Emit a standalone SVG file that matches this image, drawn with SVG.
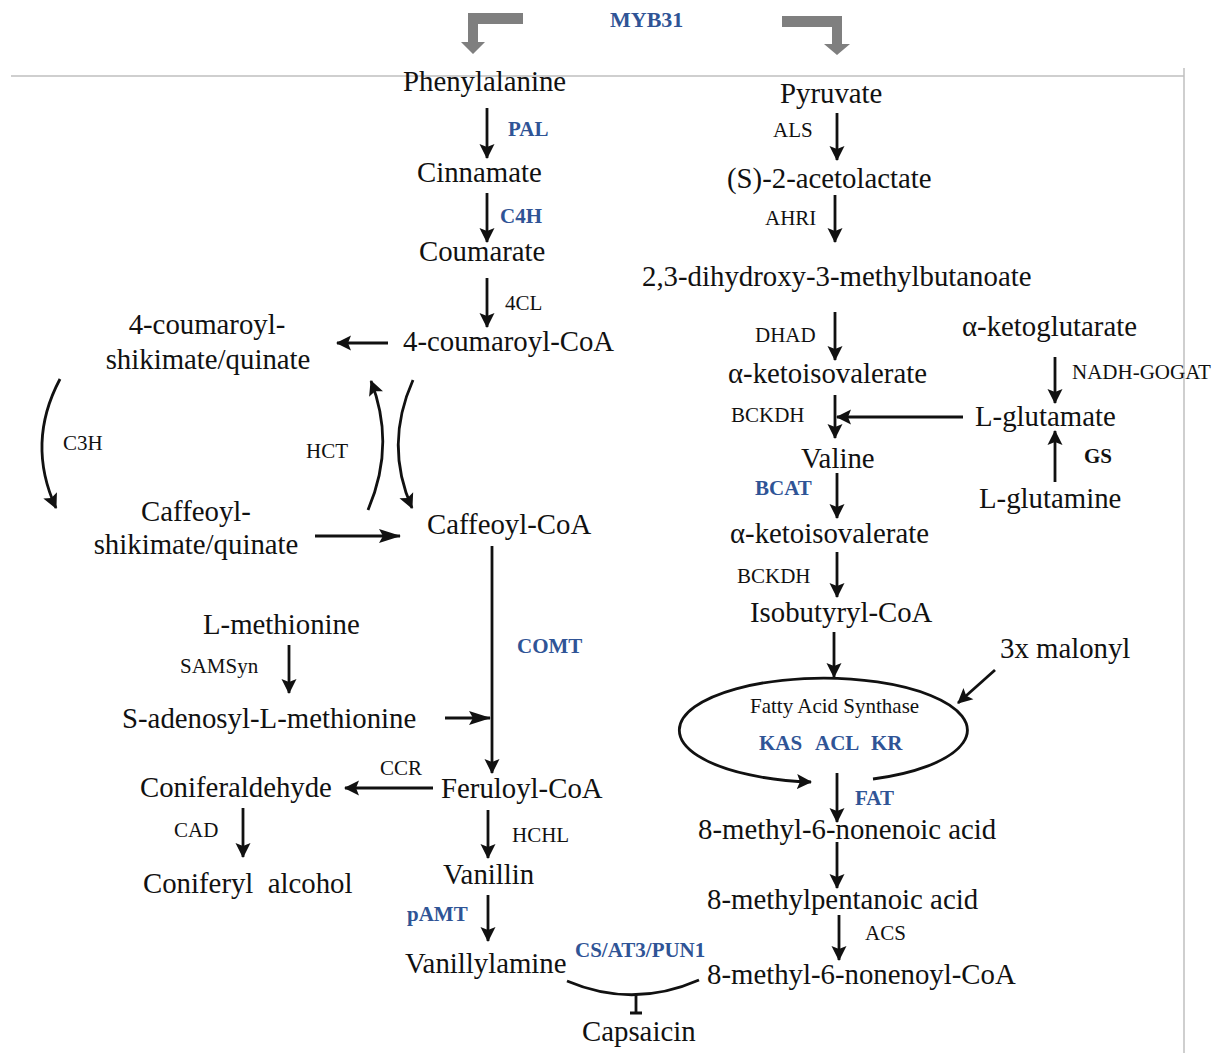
<svg xmlns="http://www.w3.org/2000/svg" width="1221" height="1053" viewBox="0 0 1221 1053">
<defs>
<style>
.t{font-family:"Liberation Serif","Times New Roman",serif;font-size:28.8px;fill:#111}
.s{font-family:"Liberation Serif","Times New Roman",serif;font-size:21px;fill:#111}
.b{font-family:"Liberation Serif","Times New Roman",serif;font-size:21px;font-weight:bold;fill:#2F5496}
.g{font-family:"Liberation Serif","Times New Roman",serif;font-size:21px;font-weight:bold;fill:#111}
.c{stroke:#111;stroke-width:2.8;fill:none}
.ar{marker-end:url(#a)}
.ab{marker-end:url(#ab)}
.frame{stroke:#c0c0c0;stroke-width:1.5;fill:none}
</style>
<marker id="a" viewBox="0 0 15 16" markerWidth="15" markerHeight="16" refX="14" refY="8" orient="auto" markerUnits="userSpaceOnUse"><path d="M0,0.5 L15,8 L0,15.5 L3,8z" fill="#111"/></marker>
<marker id="ab" viewBox="0 0 22 16" markerWidth="22" markerHeight="16" refX="21" refY="8" orient="auto" markerUnits="userSpaceOnUse"><path d="M0,1 L22,8 L0,15 L4,8z" fill="#111"/></marker>
</defs>
<rect width="1221" height="1053" fill="#fff"/>
<g id="frame">
<path class="frame" d="M11,76 H1184 M1184,68 V1053"/>
</g>
<g id="myb31">
<polygon points="523,13 468,13 468,42 461,42 473,54 485,42 478,42 478,24 523,24" fill="#7f7f7f"/>
<polygon points="782,16 842,16 842,44 850,44 837,55 824,44 832,44 832,27 782,27" fill="#7f7f7f"/>
<text class="b" x="610" y="27" style="font-size:22px">MYB31</text>
</g>
<g id="connectors">
<path class="c ar" d="M487,108 V158"/>
<path class="c ar" d="M487,193 V242"/>
<path class="c ar" d="M487,278 V327"/>
<path class="c ar" d="M388,343 H337"/>
<path class="c ar" d="M60,379 Q26,443 56,508"/>
<path class="c ar" d="M368,510 Q396,445 371,381"/>
<path class="c ar" d="M413,380 Q384,445 412,508"/>
<path class="c ab" d="M315,536 H400"/>
<path class="c ar" d="M492,546 V773"/>
<path class="c ab" d="M445,718 H490"/>
<path class="c ar" d="M289,645 V693"/>
<path class="c ar" d="M433,788 H345"/>
<path class="c ar" d="M243,808 V857"/>
<path class="c ar" d="M488,810 V858"/>
<path class="c ar" d="M488,895 V941"/>
<path class="c" d="M567,981 Q633,1009 699,980"/>
<path class="c" d="M636,995 V1013 M630,1013 H642"/>
<path class="c ar" d="M837,113 V160"/>
<path class="c ar" d="M835,195 V242"/>
<path class="c ar" d="M835,312 V360"/>
<path class="c ar" d="M835,395 V438"/>
<path class="c ar" d="M963,417 H837"/>
<path class="c ar" d="M1055,357 V403"/>
<path class="c ar" d="M1055,482 V431"/>
<path class="c ar" d="M837,473 V518"/>
<path class="c ar" d="M837,552 V597"/>
<path class="c ar" d="M834,632 V677"/>
<path class="c ar" d="M995,670 L958,703"/>
<path class="c ar" d="M873,779 A144 52 0 1 0 811,782"/>
<path class="c ar" d="M837,773 V822"/>
<path class="c ar" d="M837,842 V888"/>
<path class="c ar" d="M839,915 V960"/>
</g>
<g id="n-phenylalanine"><text class="t" x="403" y="91">Phenylalanine</text></g>
<g id="e-pal"><text class="b" x="508" y="136">PAL</text></g>
<g id="n-cinnamate"><text class="t" x="417" y="182">Cinnamate</text></g>
<g id="e-c4h"><text class="b" x="500" y="223">C4H</text></g>
<g id="n-coumarate"><text class="t" x="419" y="261">Coumarate</text></g>
<g id="e-4cl"><text class="s" x="505" y="310">4CL</text></g>
<g id="n-4coumaroylcoa"><text class="t" x="403" y="351">4-coumaroyl-CoA</text></g>
<g id="n-4coumaroylshik"><text class="t" x="207" y="334" text-anchor="middle">4-coumaroyl-</text><text class="t" x="208" y="369" text-anchor="middle">shikimate/quinate</text></g>
<g id="e-c3h"><text class="s" x="63" y="450">C3H</text></g>
<g id="e-hct"><text class="s" x="306" y="458">HCT</text></g>
<g id="n-caffeoylshik"><text class="t" x="196" y="521" text-anchor="middle">Caffeoyl-</text><text class="t" x="196" y="554" text-anchor="middle">shikimate/quinate</text></g>
<g id="n-caffeoylcoa"><text class="t" x="427" y="534">Caffeoyl-CoA</text></g>
<g id="e-comt"><text class="b" x="517" y="653">COMT</text></g>
<g id="n-lmethionine"><text class="t" x="203" y="634">L-methionine</text></g>
<g id="e-samsyn"><text class="s" x="180" y="673">SAMSyn</text></g>
<g id="n-sam"><text class="t" x="122" y="728">S-adenosyl-L-methionine</text></g>
<g id="e-ccr"><text class="s" x="380" y="775">CCR</text></g>
<g id="n-coniferaldehyde"><text class="t" x="140" y="797">Coniferaldehyde</text></g>
<g id="n-feruloylcoa"><text class="t" x="441" y="798">Feruloyl-CoA</text></g>
<g id="e-cad"><text class="s" x="174" y="837">CAD</text></g>
<g id="e-hchl"><text class="s" x="512" y="842">HCHL</text></g>
<g id="n-coniferylalcohol"><text class="t" x="143" y="893" xml:space="preserve">Coniferyl  alcohol</text></g>
<g id="n-vanillin"><text class="t" x="443" y="884">Vanillin</text></g>
<g id="e-pamt"><text class="b" x="407" y="921">pAMT</text></g>
<g id="n-vanillylamine"><text class="t" x="405" y="973">Vanillylamine</text></g>
<g id="e-cs"><text class="b" x="575" y="957">CS/AT3/PUN1</text></g>
<g id="n-capsaicin"><text class="t" x="582" y="1041">Capsaicin</text></g>
<g id="n-pyruvate"><text class="t" x="780" y="103">Pyruvate</text></g>
<g id="e-als"><text class="s" x="773" y="137">ALS</text></g>
<g id="n-acetolactate"><text class="t" x="727" y="188">(S)-2-acetolactate</text></g>
<g id="e-ahri"><text class="s" x="765" y="225">AHRI</text></g>
<g id="n-dihydroxy"><text class="t" x="642" y="286">2,3-dihydroxy-3-methylbutanoate</text></g>
<g id="e-dhad"><text class="s" x="755" y="342">DHAD</text></g>
<g id="n-ketoglutarate"><text class="t" x="962" y="336">α-ketoglutarate</text></g>
<g id="e-gogat"><text class="s" x="1072" y="379">NADH-GOGAT</text></g>
<g id="n-ketoisovalerate1"><text class="t" x="728" y="383">α-ketoisovalerate</text></g>
<g id="e-bckdh1"><text class="s" x="731" y="422">BCKDH</text></g>
<g id="n-lglutamate"><text class="t" x="975" y="426">L-glutamate</text></g>
<g id="e-gs"><text class="g" x="1084" y="463">GS</text></g>
<g id="n-lglutamine"><text class="t" x="979" y="508">L-glutamine</text></g>
<g id="n-valine"><text class="t" x="801" y="468">Valine</text></g>
<g id="e-bcat"><text class="b" x="755" y="495">BCAT</text></g>
<g id="n-ketoisovalerate2"><text class="t" x="730" y="543">α-ketoisovalerate</text></g>
<g id="e-bckdh2"><text class="s" x="737" y="583">BCKDH</text></g>
<g id="n-isobutyrylcoa"><text class="t" x="750" y="622">Isobutyryl-CoA</text></g>
<g id="n-malonyl"><text class="t" x="1000" y="658">3x malonyl</text></g>
<g id="n-fas"><text class="s" x="750" y="713">Fatty Acid Synthase</text><text class="b" y="750"><tspan x="759">KAS</tspan><tspan x="815">ACL</tspan><tspan x="871">KR</tspan></text></g>
<g id="e-fat"><text class="b" x="855" y="805">FAT</text></g>
<g id="n-nonenoic"><text class="t" x="698" y="839">8-methyl-6-nonenoic acid</text></g>
<g id="n-pentanoic"><text class="t" x="707" y="909">8-methylpentanoic acid</text></g>
<g id="e-acs"><text class="s" x="865" y="940">ACS</text></g>
<g id="n-nonenoylcoa"><text class="t" x="707" y="984">8-methyl-6-nonenoyl-CoA</text></g>
</svg>
